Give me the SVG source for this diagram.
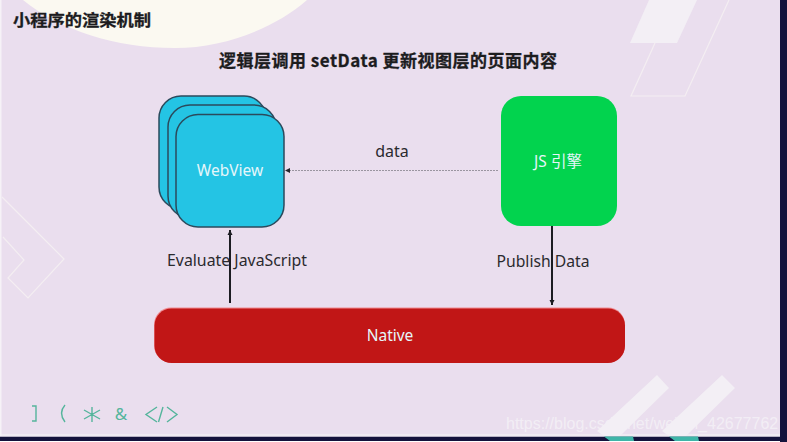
<svg xmlns="http://www.w3.org/2000/svg" width="787" height="442" viewBox="0 0 787 442">
<style>
text{font-family:"Noto Sans","Open Sans","Noto Sans CJK SC",sans-serif}
.cjk{font-family:"Noto Sans CJK SC",sans-serif;font-weight:700;fill:#1c1c1e;stroke:#1c1c1e;stroke-width:.3}
.lbl{font-size:16px;fill:#2a2a2e;text-anchor:middle}
.on{fill:#e6f6fa;text-anchor:middle;font-size:15.5px}
.card{fill:#24c4e4;stroke:#2b4a5c;stroke-width:1.5}
.deco{fill:none;stroke:#f4eef2;stroke-width:1.2}
.sym{fill:none;stroke:#55b59c;stroke-width:1.4}
.w{fill:#f3eff5}
</style>
<defs>
<marker id="a" markerUnits="userSpaceOnUse" markerWidth="6" markerHeight="6" refX="5" refY="3" orient="auto"><path d="M0 .5L5 3L0 5.500Z" fill="#1c1c22"/></marker>
<marker id="d" markerUnits="userSpaceOnUse" markerWidth="6" markerHeight="6" refX="5" refY="3" orient="auto"><path d="M0 .5L5 3L0 5.500Z" fill="#26262c"/></marker>
</defs>
<rect width="787" height="442" fill="#fff"/>
<rect x="0" y="0" width="781" height="437" fill="#eadeee"/>
<rect x="780" y="0" width="7" height="442" fill="#14123c"/>
<rect x="0" y="436.500" width="787" height="4.500" fill="#14123c"/>
<rect x="0" y="434" width="780" height="2.500" fill="#f0eaf2"/>
<rect x="0" y="0" width="1.500" height="436" fill="#f6f2f7"/>
<path d="M23 0C60 30 115 48 175 48C225 48 275 28 307 0Z" fill="#fbf9f1"/>
<path class="w" d="M649 0H697L677 43H630Z"/>
<path class="deco" d="M655 43L631 96H685L729 0"/>
<path class="deco" d="M2 197L64 259L28 298L8 278L24 260L3 237"/>
<path class="w" d="M597 431L657 375L669 388L620 436H604ZM662 431L722 375L735 388L686 436H669Z"/>
<path fill="#3fb5a8" d="M604 436.500H633L634 441H610ZM669 436.500H698L699 441H675Z"/>
<text class="cjk" x="13" y="26" font-size="15.500" textLength="138" lengthAdjust="spacingAndGlyphs">小程序的渲染机制</text>
<text class="cjk" x="219" y="67" font-size="17" textLength="338" lengthAdjust="spacing">逻辑层调用 setData 更新视图层的页面内容</text>
<g id="connectors">
<line x1="498" y1="170.500" x2="285" y2="170.500" stroke="#9a95a0" stroke-width="1" stroke-dasharray="2 1" marker-end="url(#d)"/>
<line x1="230" y1="303" x2="230" y2="230" stroke="#1c1c22" stroke-width="2" marker-end="url(#a)"/>
<line x1="552" y1="226" x2="552" y2="305" stroke="#1c1c22" stroke-width="2" marker-end="url(#a)"/>
</g>
<g id="webview">
<rect class="card" x="159" y="96" width="107" height="113" rx="22"/>
<rect class="card" x="168" y="105" width="108" height="113" rx="22"/>
<rect class="card" x="176" y="114.500" width="108" height="112.500" rx="22"/>
<text class="on" x="230" y="176" font-size="16">WebView</text>
</g>
<g id="js-engine">
<rect x="501" y="96" width="116" height="130" rx="20" fill="#02d34e"/>
<text class="on" x="558" y="167" style="font-family:'Noto Sans','Noto Sans CJK SC',sans-serif">JS 引擎</text>
</g>
<g id="native">
<rect x="154" y="307.500" width="471" height="55" rx="17" fill="#f08a90"/>
<rect x="154.500" y="308.500" width="470.500" height="54.500" rx="17" fill="#c11616"/>
<text class="on" x="390" y="341">Native</text>
</g>
<g id="label-data"><text class="lbl" x="392" y="157">data</text></g>
<g id="label-evaluate"><text class="lbl" x="237" y="266" textLength="140" lengthAdjust="spacingAndGlyphs">Evaluate JavaScript</text></g>
<g id="label-publish"><text class="lbl" x="543" y="267" textLength="93" lengthAdjust="spacingAndGlyphs">Publish Data</text></g>
<path class="sym" d="M32 406H36V421H32M65 405Q58 413 65 422M92 407V422M84 410L100 419M100 410L84 419M157 407L146 414.500L157 422M158.500 422L163 407M167 407L177 414.500L167 422"/>
<text x="121" y="420" font-size="17" fill="#55b59c" text-anchor="middle">&amp;</text>
<text x="506" y="429" font-size="16" fill="#f4f0f6" fill-opacity=".9" style="font-family:'Liberation Sans',sans-serif">https://blog.csdn.net/weixin_42677762</text>
</svg>
